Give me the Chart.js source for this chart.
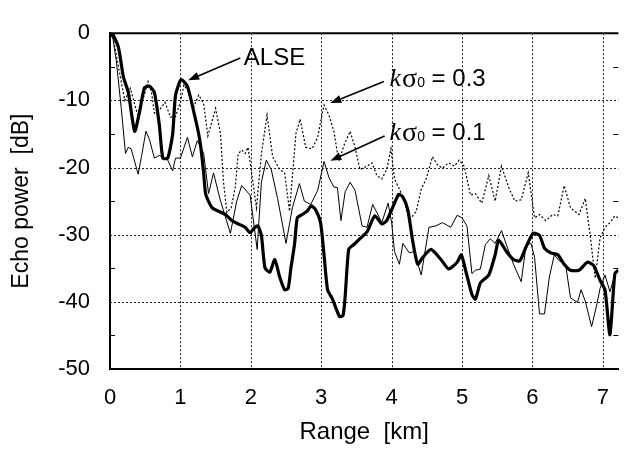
<!DOCTYPE html>
<html>
<head>
<meta charset="utf-8">
<script src="https://cdn.jsdelivr.net/npm/chart.js@4"></script>
<style>
  body { margin: 0; background: #fff; }
  canvas { display: block; }
</style>
</head>
<body>
<canvas id="echoChart" width="625" height="457"></canvas>
<script>
// [range km, echo power dB]
const alse = [
  [0, -0.5], [0.03, 0], [0.12, -2.1], [0.19, -6.5], [0.26, -8.8], [0.35, -14.6], [0.42, -11.7],
  [0.49, -8.1], [0.56, -7.9], [0.63, -8.8], [0.70, -13.6], [0.75, -18.6], [0.82, -18.6],
  [0.89, -15], [0.93, -9.3], [1.01, -6.9], [1.10, -7.9], [1.19, -11.7], [1.26, -15], [1.29, -17],
  [1.33, -20.8], [1.36, -24], [1.45, -26], [1.54, -26.5], [1.64, -27], [1.73, -27.9], [1.82, -28.4],
  [1.92, -28.9], [1.99, -29.7], [2.05, -29], [2.10, -28.7], [2.15, -30.1], [2.20, -34.9],
  [2.27, -35.6], [2.34, -33.7], [2.41, -36.3], [2.48, -38.2], [2.53, -38], [2.57, -34.9],
  [2.62, -31.5], [2.66, -27.5], [2.73, -27], [2.80, -26.5], [2.86, -25.7], [2.92, -26.3],
  [2.99, -28.2], [3.04, -33], [3.09, -38.2], [3.16, -39.6], [3.26, -42.2], [3.31, -42],
  [3.34, -39.2], [3.39, -32.2], [3.46, -31.5], [3.55, -30.6], [3.65, -29.6], [3.76, -27.2],
  [3.86, -28.4], [3.93, -27.9], [4.00, -26.3], [4.10, -24], [4.16, -24.4], [4.23, -26.3],
  [4.30, -31], [4.37, -34.4], [4.44, -33.4], [4.56, -32.2], [4.70, -33.7], [4.81, -35.1],
  [4.93, -34.1], [4.99, -33], [5.05, -35.3], [5.14, -38.9], [5.19, -39.6], [5.26, -37.2],
  [5.38, -36], [5.47, -33], [5.52, -30.8], [5.63, -32.5], [5.73, -33.7], [5.82, -33.9],
  [5.91, -31.8], [6.01, -29.8], [6.10, -30.1], [6.17, -32], [6.26, -32.7], [6.36, -33],
  [6.45, -34.4], [6.54, -35.3], [6.66, -35.3], [6.78, -34.1], [6.87, -34.6], [6.96, -36.8],
  [7.03, -38.2], [7.10, -44.9], [7.17, -35.8], [7.22, -35.3]
];

const sigma01 = [
  [0, -0.5], [0.03, 0], [0.09, -4.1], [0.16, -11.2], [0.22, -17.9], [0.26, -17], [0.30, -17.2],
  [0.40, -21], [0.45, -18.2], [0.51, -14.6], [0.56, -15.8], [0.63, -18.6], [0.70, -18.2],
  [0.76, -18.5], [0.82, -18.9], [0.89, -20.5], [0.93, -18.6], [1.00, -18.6], [1.10, -15.5],
  [1.17, -18.4], [1.24, -16], [1.29, -17], [1.33, -17.9], [1.40, -23.9], [1.47, -20.8],
  [1.57, -25], [1.71, -29.8], [1.80, -25], [1.87, -22.7], [1.99, -24.1], [2.09, -32.2],
  [2.15, -22.2], [2.22, -18.9], [2.29, -20.3], [2.38, -24.6], [2.50, -31.3], [2.59, -26],
  [2.69, -22.4], [2.76, -25], [2.85, -25.5], [2.95, -23.4], [3.04, -19.1], [3.11, -21.5],
  [3.18, -22.9], [3.23, -23], [3.28, -27.9], [3.34, -23.6], [3.41, -22.2], [3.48, -23.4],
  [3.58, -28.7], [3.65, -28.9], [3.73, -25.5], [3.79, -26.7], [3.86, -28.2], [3.95, -25.3],
  [4.00, -28.2], [4.04, -32.5], [4.11, -34.4], [4.16, -31.3], [4.25, -32.7], [4.32, -32.5],
  [4.42, -36], [4.53, -28.9], [4.63, -28.7], [4.72, -28.2], [4.84, -28.9], [4.93, -27.1],
  [5.00, -27.5], [5.07, -28.7], [5.14, -35.8], [5.19, -35.3], [5.26, -35.1], [5.33, -31.5],
  [5.40, -30.6], [5.47, -31.3], [5.56, -29.4], [5.63, -31.5], [5.73, -34.4], [5.84, -37],
  [5.91, -31.5], [5.98, -31.3], [6.03, -33.4], [6.10, -41.8], [6.17, -41.8], [6.24, -36.3],
  [6.31, -33], [6.38, -33.9], [6.47, -34.4], [6.54, -39.4], [6.64, -40.1], [6.69, -38.2],
  [6.75, -39.9], [6.84, -43.7], [6.92, -40.1], [6.96, -38], [7.03, -36], [7.10, -38.5],
  [7.17, -36], [7.22, -35.5]
];

const sigma03 = [
  [0, -0.5], [0.03, 0], [0.07, -2.1], [0.12, -5], [0.21, -10], [0.29, -8.2], [0.36, -11],
  [0.40, -12.2], [0.47, -9.8], [0.54, -7.2], [0.59, -8.8], [0.63, -11.9], [0.70, -11.5],
  [0.78, -10.3], [0.86, -12.5], [0.93, -12.4], [1.00, -10.3], [1.05, -7.7], [1.10, -8.5],
  [1.18, -11.2], [1.26, -9.2], [1.33, -10.5], [1.39, -15.3], [1.50, -11.2], [1.57, -15],
  [1.61, -22], [1.66, -26.7], [1.72, -26], [1.78, -22.9], [1.82, -18], [1.87, -17.4],
  [1.92, -17.9], [1.96, -17], [2.03, -22.2], [2.08, -26], [2.15, -18], [2.23, -12.2],
  [2.31, -18.4], [2.41, -20.3], [2.48, -20.8], [2.55, -26.5], [2.64, -15], [2.70, -12.8],
  [2.78, -17], [2.87, -17.2], [2.95, -15.5], [3.00, -12.7], [3.04, -10.7], [3.11, -12.2],
  [3.18, -14.6], [3.25, -19.1], [3.33, -16.5], [3.41, -14.6], [3.48, -17], [3.55, -20.3],
  [3.65, -19.8], [3.72, -19.3], [3.79, -21.2], [3.86, -21.7], [3.93, -20.3], [3.99, -17.2],
  [4.04, -21.7], [4.11, -23.2], [4.18, -25], [4.25, -27.9], [4.35, -26.5], [4.42, -23.2],
  [4.49, -21.7], [4.58, -18.4], [4.65, -19.6], [4.72, -20.1], [4.81, -19.3], [4.89, -19.8],
  [4.96, -18.9], [5.03, -19.8], [5.12, -24.1], [5.19, -23.9], [5.28, -25.3], [5.38, -21.2],
  [5.47, -25], [5.56, -19.8], [5.66, -22.9], [5.75, -25], [5.84, -24.8], [5.94, -20.8],
  [6.03, -27.5], [6.10, -27], [6.19, -27.9], [6.29, -27], [6.36, -27.2], [6.45, -22.7],
  [6.54, -26], [6.66, -27], [6.75, -24.6], [6.82, -30.1], [6.89, -36.5], [6.96, -30.5],
  [7.03, -28.9], [7.10, -28.2], [7.17, -27.2], [7.22, -27.5]
];

const xTicks = [0, 1, 2, 3, 4, 5, 6, 7];
const yTicks = [-50, -40, -30, -20, -10, 0];
const minorY = [-45, -35, -25, -15, -5];

// labels with arrows, in data units: text anchor, arrow start, arrow tip
const notes = [
  { label: 'ALSE', at: [1.9, -3.8], from: [1.85, -3.7], to: [1.11, -7.0] },
  { label: '0.3', at: [3.97, -6.9], from: [3.89, -7.2], to: [3.13, -10.4] },
  { label: '0.1', at: [3.97, -14.9], from: [3.90, -15.3], to: [3.13, -19.0] }
];

const toXY = arr => arr.map(p => ({ x: p[0], y: p[1] }));

Chart.defaults.font.family = '"Liberation Sans", Arial, sans-serif';
Chart.defaults.color = '#000';

// dotted grid under the lines
const dottedGrid = {
  id: 'dottedGrid',
  beforeDatasetsDraw(chart) {
    const { ctx, chartArea: a, scales: { x, y } } = chart;
    ctx.save();
    ctx.strokeStyle = '#222';
    ctx.lineWidth = 1;
    ctx.setLineDash([2, 2]);
    xTicks.filter(v => v > 0).forEach(v => {
      const px = Math.round(x.getPixelForValue(v)) + 0.5;
      ctx.beginPath();
      ctx.moveTo(px, a.top); ctx.lineTo(px, a.bottom);
      ctx.stroke();
    });
    yTicks.filter(v => v > -50 && v < 0).forEach(v => {
      const py = Math.round(y.getPixelForValue(v)) + 0.5;
      ctx.beginPath();
      ctx.moveTo(a.left, py); ctx.lineTo(a.right, py);
      ctx.stroke();
    });
    ctx.restore();
  }
};

const frame = {
  id: 'frame',
  afterDraw(chart) {
    const { ctx, chartArea: a, scales: { x, y } } = chart;
    ctx.save();
    ctx.strokeStyle = '#000';
    ctx.fillStyle = '#000';
    ctx.lineWidth = 2;
    ctx.beginPath();
    ctx.moveTo(a.left - 1, a.top);
    ctx.lineTo(a.right, a.top);
    ctx.stroke();
    // minor ticks on both sides
    ctx.lineWidth = 1;
    minorY.forEach(v => {
      const py = Math.round(y.getPixelForValue(v)) + 0.5;
      ctx.beginPath();
      ctx.moveTo(a.left, py); ctx.lineTo(a.left + 5, py);
      ctx.moveTo(a.right - 5, py); ctx.lineTo(a.right, py);
      ctx.stroke();
    });

    notes.forEach(n => {
      const fx = x.getPixelForValue(n.from[0]), fy = y.getPixelForValue(n.from[1]);
      const tx = x.getPixelForValue(n.to[0]), ty = y.getPixelForValue(n.to[1]);
      const ang = Math.atan2(ty - fy, tx - fx);
      const len = 11, hw = 4;
      const bx = tx - len * Math.cos(ang), by = ty - len * Math.sin(ang);
      ctx.lineWidth = 1.6;
      ctx.beginPath();
      ctx.moveTo(fx, fy); ctx.lineTo(bx, by);
      ctx.stroke();
      ctx.beginPath();
      ctx.moveTo(tx, ty);
      ctx.lineTo(bx + hw * Math.sin(ang), by - hw * Math.cos(ang));
      ctx.lineTo(bx - hw * Math.sin(ang), by + hw * Math.cos(ang));
      ctx.closePath();
      ctx.fill();

      let px = x.getPixelForValue(n.at[0]);
      const py = y.getPixelForValue(n.at[1]);
      ctx.textBaseline = 'middle';
      ctx.textAlign = 'left';
      if (n.label === 'ALSE') {
        ctx.font = '24px "Liberation Sans", Arial, sans-serif';
        ctx.fillText('ALSE', px, py);
        return;
      }
      ctx.font = 'italic 26px "Liberation Serif", "Times New Roman", serif';
      ctx.fillText('k', px, py);
      px += ctx.measureText('k').width + 1;
      ctx.font = '28px "Liberation Serif", "Times New Roman", serif';
      ctx.fillText('σ', px, py);
      px += ctx.measureText('σ').width;
      ctx.font = '14px "Liberation Sans", Arial, sans-serif';
      ctx.fillText('0', px, py + 4);
      px += ctx.measureText('0').width;
      ctx.font = '24px "Liberation Sans", Arial, sans-serif';
      ctx.fillText(' = ' + n.label, px, py);
    });
    ctx.restore();
  }
};

new Chart(document.getElementById('echoChart'), {
  type: 'line',
  data: {
    datasets: [
      { label: 'ALSE', data: toXY(alse), borderColor: '#000', borderWidth: 3.2, tension: 0.2 },
      { label: 'kσ0 = 0.1', data: toXY(sigma01), borderColor: '#000', borderWidth: 1 },
      { label: 'kσ0 = 0.3', data: toXY(sigma03), borderColor: '#000', borderWidth: 1.2, borderDash: [2, 2] }
    ]
  },
  options: {
    responsive: false,
    animation: false,
    elements: { point: { radius: 0 }, line: { fill: false } },
    layout: { padding: { top: 20, right: 0, left: 0, bottom: 0 } },
    plugins: { legend: { display: false }, tooltip: { enabled: false } },
    scales: {
      x: {
        type: 'linear',
        min: 0,
        max: 7.22,
        afterBuildTicks: s => { s.ticks = xTicks.map(v => ({ value: v })); },
        afterFit: s => { s.height = 88; },
        ticks: { font: { size: 22 }, padding: 16 },
        grid: { drawOnChartArea: false, drawTicks: false },
        border: { color: '#000', width: 2 },
        title: { display: true, text: 'Range  [km]', font: { size: 24 }, padding: { top: 0, bottom: 10 } }
      },
      y: {
        min: -50,
        max: 0,
        afterBuildTicks: s => { s.ticks = yTicks.map(v => ({ value: v })); },
        afterFit: s => { s.width = 110; },
        ticks: { font: { size: 22 }, padding: 20 },
        grid: { drawOnChartArea: false, drawTicks: false },
        border: { color: '#000', width: 2 },
        title: { display: true, text: 'Echo power  [dB]', font: { size: 23 }, padding: { top: 8, bottom: 0 } }
      }
    }
  },
  plugins: [dottedGrid, frame]
});
</script>
</body>
</html>
